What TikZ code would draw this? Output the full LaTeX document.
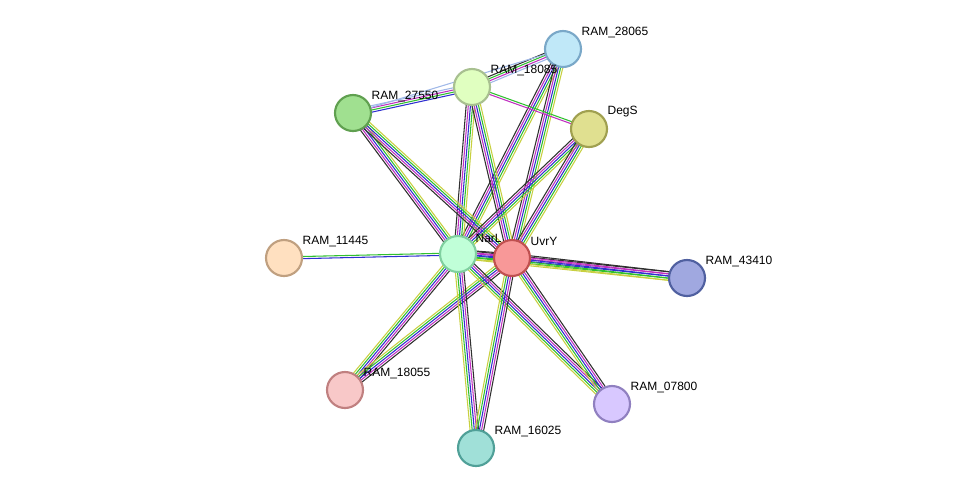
\documentclass[tikz,border=0pt]{standalone}
\usepackage{fontspec}
\setmainfont{Liberation Sans}
\usetikzlibrary{calc}
\definecolor{eg}{HTML}{30C030}\definecolor{eb}{HTML}{3030D0}
\definecolor{ep}{HTML}{C030C0}\definecolor{ek}{HTML}{303030}
\definecolor{ey}{HTML}{C8D040}\definecolor{el}{HTML}{A0B8E8}
\definecolor{fA}{HTML}{C0E8F8}\definecolor{dA}{HTML}{7AA8C8}
\definecolor{fB}{HTML}{E0FFC0}\definecolor{dB}{HTML}{A8C090}
\definecolor{fC}{HTML}{A0E090}\definecolor{dC}{HTML}{60A050}
\definecolor{fD}{HTML}{E0E090}\definecolor{dD}{HTML}{A0A050}
\definecolor{fE}{HTML}{FFE0C0}\definecolor{dE}{HTML}{C0A080}
\definecolor{fN}{HTML}{C0FFD8}\definecolor{dN}{HTML}{80D0A0}
\definecolor{fU}{HTML}{F89898}\definecolor{dU}{HTML}{C05050}
\definecolor{fF}{HTML}{A0A8E0}\definecolor{dF}{HTML}{5060A0}
\definecolor{fG}{HTML}{F8C8C8}\definecolor{dG}{HTML}{C08080}
\definecolor{fH}{HTML}{D8C8FF}\definecolor{dH}{HTML}{9080C0}
\definecolor{fI}{HTML}{A0E0D8}\definecolor{dI}{HTML}{50A098}
\newcommand\edg[3]{%
  \edef\mylst{#3}%
  \foreach \c/\o in \mylst{%
    \draw[\c,line width=0.8pt] ($(#1)!\o pt!90:(#2)$) -- ($(#2)!\o pt!-90:(#1)$);}}
\tikzset{prot/.style={circle,minimum size=27pt,inner sep=0pt,line width=1.6pt},
 lab/.style={font=\fontsize{9pt}{10pt}\selectfont,anchor=south west,inner sep=1pt}}
\begin{document}
\begin{tikzpicture}[x=0.75pt,y=-0.75pt]
\useasboundingbox (0,0) rectangle (975,494);
\coordinate (a) at (563,49);
\coordinate (b) at (472,87);
\coordinate (c) at (353,113);
\coordinate (d) at (589,129);
\coordinate (e) at (284,258);
\coordinate (n) at (458,254);
\coordinate (u) at (512,258);
\coordinate (f) at (687,278);
\coordinate (g) at (345,390);
\coordinate (h) at (612,404);
\coordinate (i) at (476,448);
\def\full{ey/-3.2,eg/-1.6,eb/0,ep/1.6,ek/3.2}
\foreach \x in {a,b,c,d,f,g,h,i}{\edg{n}{\x}{\full}\edg{u}{\x}{\full}}
\edg{n}{u}{\full}
\edg{n}{e}{eg/-0.8,eb/0.8}
\edg{b}{a}{el/-2.4,ep/-0.8,eg/0.8,ek/2.4}
\edg{b}{c}{el/-2.4,ep/-0.8,eg/0.8,eb/2.4}
\edg{b}{d}{ep/-0.8,eg/0.8}
\edg{c}{a}{el/0}
\node[prot,fill=fA,draw=dA] (A) at (a) {};
\node[prot,fill=fB,draw=dB] (B) at (b) {};
\node[prot,fill=fC,draw=dC] (C) at (c) {};
\node[prot,fill=fD,draw=dD] (D) at (d) {};
\node[prot,fill=fE,draw=dE] (E) at (e) {};
\node[prot,fill=fN,draw=dN] (N) at (n) {};
\node[prot,fill=fU,draw=dU] (U) at (u) {};
\node[prot,fill=fF,draw=dF] (F) at (f) {};
\node[prot,fill=fG,draw=dG] (G) at (g) {};
\node[prot,fill=fH,draw=dH] (H) at (h) {};
\node[prot,fill=fI,draw=dI] (I) at (i) {};
\node[lab] (la) at ($(a)+(17,-10)$) {RAM\_28065};
\node[lab] (lb) at ($(b)+(17,-10)$) {RAM\_18085};
\node[lab] (lc) at ($(c)+(17,-10)$) {RAM\_27550};
\node[lab] (ld) at ($(d)+(17,-10)$) {DegS};
\node[lab] (le) at ($(e)+(17,-10)$) {RAM\_11445};
\node[lab] (ln) at ($(n)+(16,-10)$) {NarL};
\node[lab] (lu) at ($(u)+(17,-11)$) {UvrY};
\node[lab] (lf) at ($(f)+(17,-10)$) {RAM\_43410};
\node[lab] (lg) at ($(g)+(17,-10)$) {RAM\_18055};
\node[lab] (lh) at ($(h)+(17,-10)$) {RAM\_07800};
\node[lab] (li) at ($(i)+(17,-10)$) {RAM\_16025};
\end{tikzpicture}
\end{document}
